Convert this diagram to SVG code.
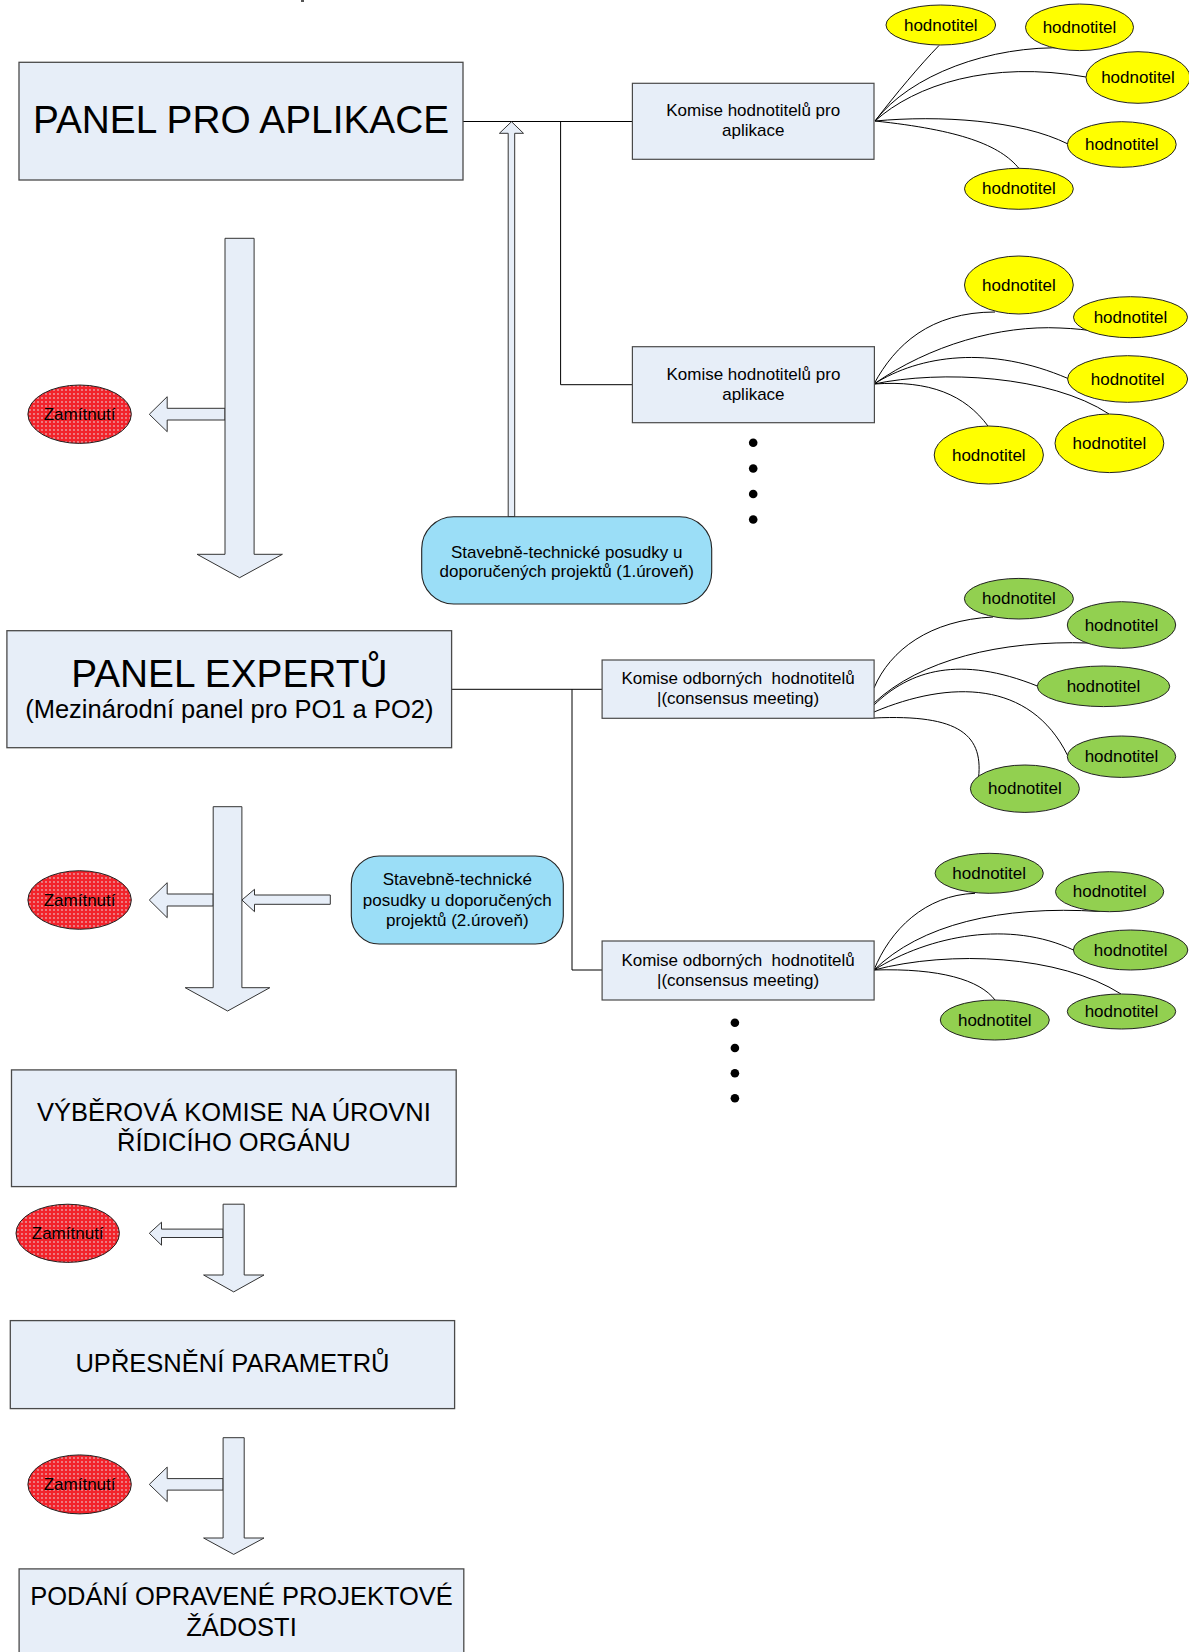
<svg xmlns="http://www.w3.org/2000/svg" width="1189" height="1652" viewBox="0 0 1189 1652">
<defs>
<pattern id="dots" width="4" height="4" patternUnits="userSpaceOnUse">
<rect width="4" height="4" fill="#F2232B"/>
<circle cx="2" cy="2" r="0.9" fill="#E9A3A8"/>
</pattern>
</defs>
<style>
text{font-family:"Liberation Sans",Arial,sans-serif;fill:#000;text-anchor:middle}
.box{fill:#E7EEF8;stroke:#4a4a4a;stroke-width:1.3}
.big{font-size:38.8px}
.mid{font-size:25.5px}
.sm{font-size:17px}
.kom{fill:#E7EEF8;stroke:#4a4a4a;stroke-width:1.2}
.stav{fill:#9BDEF7;stroke:#222;stroke-width:1.1}
.yel{fill:#FFFF00;stroke:#222;stroke-width:1}
.grn{fill:#92D050;stroke:#222;stroke-width:1}
.rej{fill:url(#dots);stroke:#222;stroke-width:1}
.arr{fill:#E7EEF8;stroke:#333;stroke-width:1}
.ln{fill:none;stroke:#000;stroke-width:1}
.dot{fill:#000}
</style>
<rect x="301" y="0" width="3" height="2" fill="#555"/>

<g id="connectors">
<path class="ln" d="M463,121.5 H632.4 M560.6,121.5 V384.7 H632.4"/>
<path class="ln" d="M451.6,689.3 H602.1 M572,689.3 V970 H602.1"/>
<path class="ln" d="M875,121 C895,95 920,65 939,45.5"/>
<path class="ln" d="M875,121 C910,75 990,45 1067,48"/>
<path class="ln" d="M875,121 C915,85 990,60 1086,77"/>
<path class="ln" d="M875,121 C940,115 1020,120 1068,144"/>
<path class="ln" d="M875,121 C960,130 1000,145 1019,168.5"/>
<path class="ln" d="M874,384 C895,345 930,312 995,312"/>
<path class="ln" d="M874,384 C930,345 1000,325 1060,328 C1090,329 1110,334 1132,337.5"/>
<path class="ln" d="M874,384 C920,355 990,345 1068,378.5"/>
<path class="ln" d="M874,384 C940,370 1050,375 1109,414"/>
<path class="ln" d="M874,384 C930,380 965,395 988,426"/>
<path class="ln" d="M874,688 C890,650 930,620 993,617"/>
<path class="ln" d="M874,703 C920,660 1000,640 1089,643"/>
<path class="ln" d="M874,705 C910,670 960,655 1037.3,686"/>
<path class="ln" d="M874,712 C950,680 1030,680 1067.4,755"/>
<path class="ln" d="M874,718 C960,714 985,735 978,782"/>
<path class="ln" d="M874,970 C890,930 925,895 975,893.3"/>
<path class="ln" d="M874,970 C920,925 1000,905 1100,911.5"/>
<path class="ln" d="M874,970 C930,935 1010,920 1073.4,950"/>
<path class="ln" d="M874,970 C950,950 1060,955 1121,994"/>
<path class="ln" d="M874,970 C940,968 980,980 995,1000"/>
<polygon class="arr" points="508.2,516.7 508.2,133.3 499.4,133.3 511.5,121.7 523.5,133.3 514.7,133.3 514.7,516.7"/>
<polygon class="arr" points="225,408.3 167.2,408.3 167.2,396.7 149.3,414.3 167.2,431.7 167.2,420 225,420"/>
<polygon class="arr" points="225,238.3 254.1,238.3 254.1,554.3 282.4,554.3 239.6,577.7 197.1,554.3 225,554.3"/>
<polygon class="arr" points="213.2,894 167.2,894 167.2,882.7 149.3,900 167.2,917.7 167.2,906 213.2,906"/>
<polygon class="arr" points="330.3,895 254.5,895 254.5,889.3 241.9,900 254.5,911.7 254.5,904.3 330.3,904.3"/>
<polygon class="arr" points="213.2,806.7 241.9,806.7 241.9,987.7 269.8,987.7 227.6,1011 185.2,987.7 213.2,987.7"/>
<polygon class="arr" points="223.1,1229.1 161.5,1229.1 161.5,1222.2 149.3,1233.3 161.5,1245.2 161.5,1237.5 223.1,1237.5"/>
<polygon class="arr" points="223.1,1204.2 244.2,1204.2 244.2,1275 264,1275 233.7,1291.9 203.6,1275 223.1,1275"/>
<polygon class="arr" points="223.1,1478.6 167.2,1478.6 167.2,1467.1 149.3,1484.4 167.2,1501.6 167.2,1490.1 223.1,1490.1"/>
<polygon class="arr" points="223.1,1437.7 244.2,1437.7 244.2,1538 264,1538 233.7,1554.4 203.6,1538 223.1,1538"/>
</g>

<g id="panel-aplikace"><rect class="box" x="19" y="62.3" width="444" height="117.7"/><text class="big" x="241" y="133">PANEL PRO APLIKACE</text></g>
<g id="panel-expertu"><rect class="box" x="6.9" y="630.7" width="444.7" height="117"/><text class="big" x="229.3" y="686.5">PANEL EXPERTŮ</text><text class="mid" x="229.3" y="718.3">(Mezinárodní panel pro PO1 a PO2)</text></g>
<g id="vyberova"><rect class="box" x="11.5" y="1069.9" width="444.7" height="116.7"/><text class="mid" x="233.9" y="1120.8">VÝBĚROVÁ KOMISE NA ÚROVNI</text><text class="mid" x="233.9" y="1150.6">ŘÍDICÍHO ORGÁNU</text></g>
<g id="upresneni"><rect class="box" x="10.3" y="1320.6" width="444.3" height="88"/><text class="mid" x="232.5" y="1371.5">UPŘESNĚNÍ PARAMETRŮ</text></g>
<g id="podani"><rect class="box" x="19.1" y="1568.9" width="444.7" height="100"/><text class="mid" x="241.5" y="1604.9">PODÁNÍ OPRAVENÉ PROJEKTOVÉ</text><text class="mid" x="241.5" y="1635.5">ŽÁDOSTI</text></g>

<g id="komise-1"><rect class="kom" x="632.4" y="83.3" width="241.6" height="76"/><text class="sm" x="753.2" y="116">Komise hodnotitelů pro</text><text class="sm" x="753.2" y="135.5">aplikace</text></g>
<g id="komise-2"><rect class="kom" x="632.4" y="346.7" width="242" height="76"/><text class="sm" x="753.4" y="379.5">Komise hodnotitelů pro</text><text class="sm" x="753.4" y="399.5">aplikace</text></g>
<g id="komise-3"><rect class="kom" x="602.1" y="660" width="272" height="58.3"/><text class="sm" x="738.1" y="684.3" xml:space="preserve">Komise odborných  hodnotitelů</text><text class="sm" x="738.1" y="704.3">|(consensus meeting)</text></g>
<g id="komise-4"><rect class="kom" x="602.1" y="941" width="272" height="59"/><text class="sm" x="738.1" y="966.2" xml:space="preserve">Komise odborných  hodnotitelů</text><text class="sm" x="738.1" y="985.5">|(consensus meeting)</text></g>

<g id="stavebne-1"><rect class="stav" x="421.7" y="516.7" width="290" height="87.3" rx="32" ry="32"/><text class="sm" x="566.7" y="557.5">Stavebně-technické posudky u</text><text class="sm" x="566.7" y="576.5">doporučených projektů (1.úroveň)</text></g>
<g id="stavebne-2"><rect class="stav" x="351.3" y="856" width="212" height="88" rx="28" ry="28"/><text class="sm" x="457.3" y="885">Stavebně-technické</text><text class="sm" x="457.3" y="905.5">posudky u doporučených</text><text class="sm" x="457.3" y="925.5">projektů (2.úroveň)</text></g>

<g id="zamitnuti-1"><ellipse class="rej" cx="79.6" cy="414.2" rx="51.7" ry="29.2"/><text class="sm" x="79.6" y="420">Zamítnutí</text></g>
<g id="zamitnuti-2"><ellipse class="rej" cx="79.6" cy="900" rx="51.7" ry="29.3"/><text class="sm" x="79.6" y="906">Zamítnutí</text></g>
<g id="zamitnuti-3"><ellipse class="rej" cx="67.7" cy="1233.3" rx="51.7" ry="29.1"/><text class="sm" x="67.7" y="1239.3">Zamítnutí</text></g>
<g id="zamitnuti-4"><ellipse class="rej" cx="79.6" cy="1484.4" rx="51.7" ry="29.5"/><text class="sm" x="79.6" y="1490.4">Zamítnutí</text></g>

<g id="y1"><ellipse class="yel" cx="940.8" cy="25" rx="54.8" ry="20"/><text class="sm" x="940.8" y="30.5">hodnotitel</text></g>
<g id="y2"><ellipse class="yel" cx="1079.5" cy="27.3" rx="54" ry="23.3"/><text class="sm" x="1079.5" y="33">hodnotitel</text></g>
<g id="y3"><ellipse class="yel" cx="1138" cy="77.5" rx="52" ry="25.8"/><text class="sm" x="1138" y="82.5">hodnotitel</text></g>
<g id="y4"><ellipse class="yel" cx="1121.8" cy="144.5" rx="54.4" ry="22.8"/><text class="sm" x="1121.8" y="150">hodnotitel</text></g>
<g id="y5"><ellipse class="yel" cx="1018.9" cy="188.8" rx="54.4" ry="20.5"/><text class="sm" x="1018.9" y="194.3">hodnotitel</text></g>
<g id="y6"><ellipse class="yel" cx="1018.9" cy="285" rx="54.4" ry="29"/><text class="sm" x="1018.9" y="290.5">hodnotitel</text></g>
<g id="y7"><ellipse class="yel" cx="1130.5" cy="317.2" rx="57" ry="20.5"/><text class="sm" x="1130.5" y="323">hodnotitel</text></g>
<g id="y8"><ellipse class="yel" cx="1127.6" cy="379" rx="60" ry="23.3"/><text class="sm" x="1127.6" y="384.5">hodnotitel</text></g>
<g id="y9"><ellipse class="yel" cx="1109.4" cy="443.3" rx="54.4" ry="29.3"/><text class="sm" x="1109.4" y="448.8">hodnotitel</text></g>
<g id="y10"><ellipse class="yel" cx="988.8" cy="455" rx="54.6" ry="29"/><text class="sm" x="988.8" y="460.5">hodnotitel</text></g>

<g id="g1"><ellipse class="grn" cx="1018.9" cy="598.7" rx="54.5" ry="20.3"/><text class="sm" x="1018.9" y="604.2">hodnotitel</text></g>
<g id="g2"><ellipse class="grn" cx="1121.5" cy="625" rx="54.2" ry="23.3"/><text class="sm" x="1121.5" y="630.5">hodnotitel</text></g>
<g id="g3"><ellipse class="grn" cx="1103.5" cy="686.3" rx="66.2" ry="20.3"/><text class="sm" x="1103.5" y="691.8">hodnotitel</text></g>
<g id="g4"><ellipse class="grn" cx="1121.5" cy="756.7" rx="54.2" ry="20.7"/><text class="sm" x="1121.5" y="762.2">hodnotitel</text></g>
<g id="g5"><ellipse class="grn" cx="1024.9" cy="788.7" rx="54.5" ry="23.7"/><text class="sm" x="1024.9" y="794.2">hodnotitel</text></g>
<g id="g6"><ellipse class="grn" cx="989.2" cy="873.3" rx="54.1" ry="20"/><text class="sm" x="989.2" y="878.8">hodnotitel</text></g>
<g id="g7"><ellipse class="grn" cx="1109.6" cy="891.7" rx="54.1" ry="20"/><text class="sm" x="1109.6" y="897.2">hodnotitel</text></g>
<g id="g8"><ellipse class="grn" cx="1130.6" cy="950" rx="57.2" ry="20"/><text class="sm" x="1130.6" y="955.5">hodnotitel</text></g>
<g id="g9"><ellipse class="grn" cx="1121.5" cy="1011.5" rx="54.2" ry="17.5"/><text class="sm" x="1121.5" y="1017">hodnotitel</text></g>
<g id="g10"><ellipse class="grn" cx="994.8" cy="1020" rx="54.5" ry="20"/><text class="sm" x="994.8" y="1025.5">hodnotitel</text></g>

<g id="dots-1"><circle class="dot" cx="753.2" cy="442.7" r="4.3"/><circle class="dot" cx="753.2" cy="468.5" r="4.3"/><circle class="dot" cx="753.2" cy="494" r="4.3"/><circle class="dot" cx="753.2" cy="519.5" r="4.3"/></g>
<g id="dots-2"><circle class="dot" cx="734.9" cy="1022.8" r="4.3"/><circle class="dot" cx="734.9" cy="1048" r="4.3"/><circle class="dot" cx="734.9" cy="1073.3" r="4.3"/><circle class="dot" cx="734.9" cy="1098.3" r="4.3"/></g>
</svg>
